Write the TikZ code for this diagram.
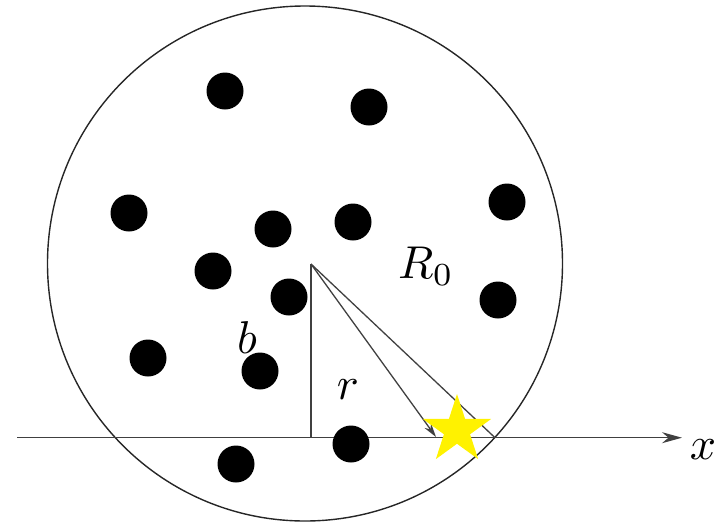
\documentclass[tikz,border=0pt]{standalone}
\usepackage{graphicx}
\usetikzlibrary{shapes.geometric,arrows.meta}
\newcommand{\bigmath}[1]{\scalebox{4.6}{$#1$}}
\begin{document}
\begin{tikzpicture}[x=1pt,y=-1pt,
  dot/.style={circle,fill=black,inner sep=0pt,minimum size=37pt},
  lbl/.style={inner sep=0pt},
  ln/.style={line width=1.3pt,draw=black!75}]
\useasboundingbox (0,0) rectangle (715,523);
\node[circle,draw=black!85,line width=1.4pt,minimum size=515pt,inner sep=0pt] (C) at (305,263.5) {};
\coordinate (O) at (311,264);
\coordinate (F) at (311,437.7);
\coordinate (A0) at (17,437.7);
\coordinate (A1) at (682,437.7);
\coordinate (P) at (495,437.7);
\coordinate (T) at (436,437);
\draw[ln,-{Stealth[length=20pt,width=11pt]}] (A0) -- (A1);
\draw[ln] (O) -- (F);
\draw[ln] (O) -- (P);
\draw[ln,-{Stealth[length=14pt,width=8pt]}] (O) -- (T);
\foreach \i/\p in {1/{(225,91)},2/{(369,107)},3/{(129,213)},4/{(273,229)},5/{(353,222)},6/{(213,271)},7/{(289,297)},8/{(507,202)},9/{(498,300)},10/{(148,358)},11/{(260,371)},12/{(351,444)},13/{(236,464)}}
  \node[dot] (d\i) at \p {};
\node[star,star points=5,star point ratio=2.618,fill=yellow,minimum size=72pt,inner sep=0pt] (S) at (457,430) {};
\node[lbl] (R) at (426,266) {\bigmath{R_0}};
\node[lbl] (b) at (247,338) {\bigmath{b}};
\node[lbl] (r) at (348,390) {\bigmath{r}};
\node[lbl] (x) at (703,450) {\bigmath{x}};
\end{tikzpicture}
\end{document}
